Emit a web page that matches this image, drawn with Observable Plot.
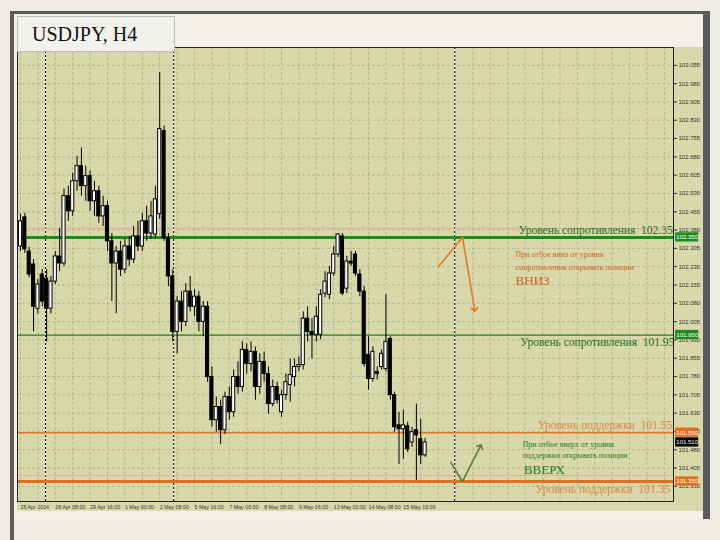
<!DOCTYPE html>
<html><head><meta charset="utf-8">
<script src="https://cdn.jsdelivr.net/npm/d3@7"></script>
<script src="https://cdn.jsdelivr.net/npm/@observablehq/plot@0.6"></script>
<style>
body{margin:0;background:#eeece5;width:720px;height:540px;overflow:hidden;position:relative;}
#frameL{position:absolute;left:10px;top:11px;width:4px;height:529px;background:#5a5a5a}
#frameT{position:absolute;left:10px;top:11px;width:700px;height:3px;background:#5a5a5a}
#frameR{position:absolute;left:703px;top:11px;width:7px;height:508px;background:#5a5a5a}
#inner{position:absolute;left:14px;top:14px;width:689px;height:505px;background:#f2f0e9}
#panel{position:absolute;left:17px;top:47px;width:686px;height:464px;background:#d8d8aa}
#chart{position:absolute;left:0;top:0}
#title{position:absolute;left:17px;top:16px;width:158px;height:36px;background:#f3f1eb;border:1px solid #bdbdb5;font-family:"Liberation Serif","Times New Roman",serif;font-size:20px;line-height:35px;padding-left:14px;box-sizing:border-box;color:#111}
</style></head>
<body>
<div id="inner"></div><div id="frameL"></div><div id="frameT"></div><div id="frameR"></div>
<div id="panel"></div>
<div id="chart"></div>
<div id="title">USDJPY, H4</div>
<script>
// ---- data (USDJPY H4) ----
const opens = [102.313,102.432,102.292,102.239,102.058,102.198,102.181,102.058,102.169,102.272,
102.243,102.519,102.457,102.580,102.642,102.560,102.601,102.498,102.539,102.436,
102.478,102.334,102.243,102.292,102.218,102.313,102.259,102.354,102.313,102.416,
102.366,102.362,102.445,102.786,102.346,102.190,101.963,102.087,102.004,102.128,
102.066,102.107,102.004,102.066,101.778,101.601,101.655,101.560,101.696,101.634,
101.778,101.737,101.889,101.831,101.881,101.737,101.840,101.790,101.667,101.737,
101.634,101.704,101.745,101.778,101.819,101.827,102.017,101.963,101.951,101.951,
102.120,102.115,102.202,102.280,102.354,102.140,102.251,102.280,102.198,102.128,
101.869,101.770,101.799,101.819,101.811,101.934,101.704,101.580,101.564,101.576,
101.510,101.560,101.523,101.457];
const closes = [102.416,102.301,102.198,102.066,102.157,102.087,102.058,102.169,102.272,102.243,
102.519,102.457,102.580,102.642,102.560,102.601,102.498,102.539,102.436,102.478,
102.334,102.243,102.292,102.218,102.313,102.259,102.354,102.313,102.416,102.366,
102.436,102.506,102.794,102.346,102.190,101.963,102.087,102.004,102.128,102.066,
102.107,102.004,102.066,101.778,101.601,101.655,101.560,101.696,101.634,101.778,
101.737,101.889,101.831,101.881,101.737,101.840,101.790,101.667,101.737,101.683,
101.704,101.757,101.786,101.819,101.827,102.017,101.963,101.951,102.025,102.115,
102.169,102.202,102.280,102.362,102.120,102.251,102.243,102.202,102.128,101.831,
101.770,101.881,101.790,101.873,101.922,101.704,101.572,101.564,101.580,101.482,
101.552,101.539,101.457,101.510];
const highs = [102.445,102.449,102.309,102.259,102.177,102.218,102.218,102.190,102.292,102.387,
102.548,102.560,102.613,102.683,102.716,102.642,102.622,102.580,102.560,102.519,
102.498,102.366,102.313,102.334,102.342,102.354,102.395,102.416,102.449,102.478,
102.498,102.560,103.025,102.807,102.366,102.218,102.107,102.128,102.161,102.190,
102.136,102.128,102.087,102.087,101.819,101.696,101.683,101.716,101.737,101.807,
101.840,101.922,101.914,101.922,101.901,101.873,101.881,101.819,101.766,101.757,
101.724,101.790,101.852,101.852,101.860,102.045,102.066,102.017,102.066,102.136,
102.210,102.231,102.313,102.366,102.366,102.272,102.292,102.292,102.218,102.148,
101.943,101.901,101.819,101.889,102.115,101.943,101.716,101.634,101.642,101.593,
101.572,101.667,101.605,101.527];
const lows = [102.292,102.284,102.185,101.963,102.037,102.066,101.922,102.037,102.157,102.210,
102.231,102.416,102.436,102.539,102.519,102.498,102.457,102.436,102.408,102.395,
102.292,102.087,102.037,102.190,102.202,102.231,102.243,102.292,102.292,102.334,
102.342,102.342,102.424,102.334,102.148,101.922,101.873,101.963,101.984,102.045,
102.025,101.963,101.943,101.757,101.572,101.552,101.502,101.543,101.601,101.613,
101.708,101.716,101.790,101.799,101.683,101.708,101.757,101.626,101.655,101.667,
101.613,101.683,101.675,101.737,101.799,101.807,101.922,101.852,101.922,101.930,
102.103,102.095,102.190,102.268,102.111,102.120,102.231,102.190,102.107,101.819,
101.724,101.757,101.766,101.807,101.799,101.683,101.552,101.420,101.441,101.469,
101.490,101.354,101.420,101.449];

const yTicks = [103.055,102.980,102.905,102.830,102.755,102.680,102.605,102.530,102.455,102.380,
102.305,102.230,102.155,102.080,102.005,101.930,101.855,101.780,101.705,101.630,101.555,101.480,101.405,101.330];
const xTickBars = [0,8,16,24,32,40,48,56,64,72,80,88];
const xTickLabels = ["25 Apr 2014","28 Apr 08:00","29 Apr 16:00","1 May 00:00","2 May 08:00","5 May 16:00",
"7 May 00:00","8 May 08:00","9 May 16:00","13 May 00:00","14 May 08:00","15 May 16:00"];
const separatorBars = [5.75, 35.2, 99.8];

const resistanceLevels = [102.35, 101.95];
const supportLevels = [101.55, 101.35];
const faintLevels = [102.387, 101.375];
const tagPrices = [102.35, 101.95, 101.55, 101.51, 101.35];
const tagColors = ["#1d8a1d", "#1d8a1d", "#e0701e", "#000000", "#e0701e"];

const sellArrowBars = [96.1, 101.6, 104.4];
const sellArrowPrices = [102.231, 102.35, 102.054];
const buyArrowBars = [98.9, 101.6, 105.7];
const buyArrowPrices = [101.428, 101.35, 101.494];

// ---- build ----
const bars = opens.map((o, i) => ({i, o, c: closes[i], h: highs[i], l: lows[i]}));
const up = bars.filter(d => d.c >= d.o), down = bars.filter(d => d.c < d.o);
const gridBars = d3.range(0, 150, 4);
const sellArrow = sellArrowBars.map((b, k) => ({b, p: sellArrowPrices[k]}));
const buyArrow = buyArrowBars.map((b, k) => ({b, p: buyArrowPrices[k]}));
const serif = "Liberation Serif, Times New Roman, serif";

const chart = Plot.plot({
  width: 720, height: 540,
  marginLeft: 17, marginRight: 47, marginTop: 47, marginBottom: 39,
  style: {background: "transparent", fontFamily: "Liberation Sans, Arial, sans-serif"},
  x: {type: "linear", domain: [-0.69, 150.1]},
  y: {domain: [101.268, 103.128]},
  marks: [
    Plot.ruleX(gridBars, {x: d => d, stroke: "#b8b892", strokeDasharray: "3,2", strokeWidth: 1}),
    Plot.ruleY(yTicks, {y: d => d, stroke: "#b8b892", strokeDasharray: "3,2", strokeWidth: 1}),
    Plot.ruleX(separatorBars, {x: d => d, stroke: "#ffffff", strokeWidth: 1}),
    Plot.ruleX(separatorBars, {x: d => d, stroke: "#000000", strokeDasharray: "2,2", strokeWidth: 1}),
    Plot.ruleY(faintLevels, {y: d => d, stroke: "#e8a89c", strokeWidth: 1}),
    Plot.ruleY([resistanceLevels[0]], {y: d => d, stroke: "#1d8a1d", strokeWidth: 3}),
    Plot.ruleY([resistanceLevels[1]], {y: d => d, stroke: "#2a7a22", strokeWidth: 1.3}),
    Plot.ruleY([supportLevels[0]], {y: d => d, stroke: "#e0742a", strokeWidth: 1.5}),
    Plot.ruleY([supportLevels[1]], {y: d => d, stroke: "#e0701e", strokeWidth: 3}),
    Plot.ruleX(bars, {x: "i", y1: "l", y2: "h", stroke: "#000", strokeWidth: 1}),
    Plot.rect(up, {x1: d => d.i - 0.36, x2: d => d.i + 0.36, y1: "o", y2: "c", fill: "#ffffff", stroke: "#000", strokeWidth: 1}),
    Plot.rect(down, {x1: d => d.i - 0.36, x2: d => d.i + 0.36, y1: "o", y2: "c", fill: "#000000", stroke: "#000", strokeWidth: 1}),
    Plot.line(sellArrow, {x: "b", y: "p", stroke: "#e07a2c", strokeWidth: 1.6, markerEnd: "arrow"}),
    Plot.line(buyArrow, {x: "b", y: "p", stroke: "#5f7d3a", strokeWidth: 1.6, markerEnd: "arrow"}),
    Plot.text(["Уровень сопротивления  102.35"], {x: 114.5, y: 102.362, text: d => d, textAnchor: "start", lineAnchor: "bottom", fill: "#1f6e1f", fontSize: 11.5, fontFamily: serif}),
    Plot.text(["При отбое вниз от уровня"], {x: 113.8, y: 102.280, text: d => d, textAnchor: "start", fill: "#d2661e", fontSize: 8, fontFamily: serif}),
    Plot.text(["сопротивления открывать позиции"], {x: 113.8, y: 102.227, text: d => d, textAnchor: "start", fill: "#d2661e", fontSize: 8, fontFamily: serif}),
    Plot.text(["ВНИЗ"], {x: 113.8, y: 102.173, text: d => d, textAnchor: "start", fill: "#d2661e", fontSize: 13, fontFamily: serif}),
    Plot.text(["Уровень сопротивления  101.95"], {x: 114.9, y: 101.922, text: d => d, textAnchor: "start", fill: "#1f6e1f", fontSize: 11.5, fontFamily: serif}),
    Plot.text(["Уровень поддержки  101.55"], {x: 118.9, y: 101.580, text: d => d, textAnchor: "start", fill: "#dc8a42", fontSize: 11.5, fontFamily: serif}),
    Plot.text(["При отбое вверх от уровня"], {x: 115.4, y: 101.502, text: d => d, textAnchor: "start", fill: "#2a7a22", fontSize: 8, fontFamily: serif}),
    Plot.text(["поддержки открывать позиции"], {x: 115.4, y: 101.457, text: d => d, textAnchor: "start", fill: "#2a7a22", fontSize: 8, fontFamily: serif}),
    Plot.text(["ВВЕРХ"], {x: 115.7, y: 101.399, text: d => d, textAnchor: "start", fill: "#2a7a22", fontSize: 13, fontFamily: serif}),
    Plot.text(["Уровень поддержки  101.35"], {x: 118.4, y: 101.317, text: d => d, textAnchor: "start", fill: "#dc8a42", fontSize: 11.5, fontFamily: serif}),
    Plot.frame({stroke: "#222", strokeWidth: 1}),
    Plot.axisY(yTicks, {anchor: "right", tickSize: 3, tickPadding: 2, tickFormat: d => d.toFixed(3), fontSize: 6, fill: "#333", stroke: "#333", label: null}),
    Plot.axisX(xTickBars, {anchor: "bottom", tickSize: 0, tickPadding: 4, tickFormat: d => xTickLabels[xTickBars.indexOf(d)], textAnchor: "start", fontSize: 5.3, fill: "#333", label: null}),
    Plot.rect(tagPrices, {x1: 150.6, x2: 155.9, y1: d => d - 0.019, y2: d => d + 0.019, fill: (d, i) => tagColors[i], clip: false}),
    Plot.text(tagPrices, {x: 153.25, y: d => d, text: d => d.toFixed(3), fill: "#ffffff", fontSize: 6, clip: false})
  ]
});
document.getElementById("chart").appendChild(chart);
</script>
</body></html>
